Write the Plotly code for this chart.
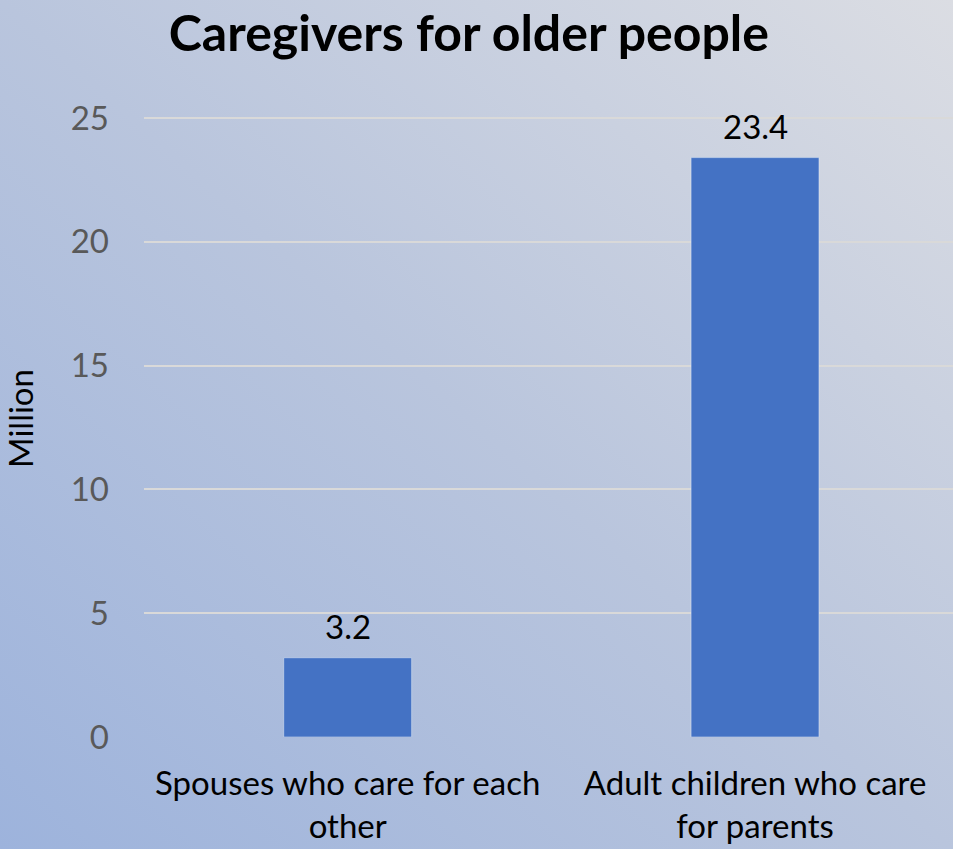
import base64
import plotly.graph_objects as go

categories = ["Spouses who care for each<br>other", "Adult children who care<br>for parents"]
values = [3.2, 23.4]
tick_vals = [0, 5, 10, 15, 20, 25]
title_text = "Caregivers for older people"
y_title = "Million"

W, H = 953, 849
ML, MR, MT, MB = 144, 0, 100, 112

svg = f'''<svg xmlns="http://www.w3.org/2000/svg" width="{W}" height="{H}" viewBox="0 0 {W} {H}" preserveAspectRatio="none">
<defs><linearGradient id="g" x1="0" y1="1" x2="1" y2="0">
<stop offset="0" stop-color="#9db3dc"/>
<stop offset="0.5" stop-color="#b9c5dd"/>
<stop offset="1" stop-color="#dbdde3"/>
</linearGradient></defs>
<rect width="{W}" height="{H}" fill="url(#g)"/></svg>'''
src = "data:image/svg+xml;base64," + base64.b64encode(svg.encode()).decode()

pw = W - ML - MR
ph = H - MT - MB
ytop = 25 * (737 - MT) / (737 - 118)

fig = go.Figure(go.Bar(
    x=categories, y=values, marker_color="#4472c4", width=0.314,
))

for c, v in zip(categories, values):
    fig.add_annotation(x=c, y=v, text=f"{v:.1f}", showarrow=False, yanchor="bottom", yshift=10,
                       font=dict(size=33, color="#000000", family="Lato"))

fig.update_layout(
    width=W, height=H,
    margin=dict(l=ML, r=MR, t=MT, b=MB),
    paper_bgcolor="rgba(0,0,0,0)", plot_bgcolor="rgba(0,0,0,0)",
    title=dict(text=f"<b>{title_text}</b>", x=0.492, xanchor="center", y=0.961, yanchor="middle",
               font=dict(size=50, color="#000000", family="Lato")),
    font=dict(family="Lato"),
    showlegend=False,
    images=[dict(source=src, xref="paper", yref="paper", x=-ML / pw, y=1 + MT / ph,
                 sizex=W / pw, sizey=H / ph, xanchor="left", yanchor="top",
                 sizing="stretch", layer="below")],
    xaxis=dict(range=[-0.5, 1.486], showgrid=False, zeroline=False, showline=False,
               tickfont=dict(size=33, color="#000000", family="Lato"), ticklabelstandoff=24),
    yaxis=dict(range=[0, ytop], tickvals=tick_vals, showgrid=True, gridcolor="#d9d9d9", gridwidth=2,
               zeroline=False, showline=False,
               tickfont=dict(size=33, color="#595959", family="Lato"), ticklabelstandoff=34,
               title=dict(text=y_title, font=dict(size=33, color="#000000", family="Lato"), standoff=28)),
)

fig.write_html("out.html", config={"displayModeBar": False})
with open("out.html", encoding="utf-8") as f:
    html = f.read()
html = html.replace("<body>", '<body style="margin:0;padding:0;overflow:hidden">', 1)
with open("out.html", "w", encoding="utf-8") as f:
    f.write(html)
